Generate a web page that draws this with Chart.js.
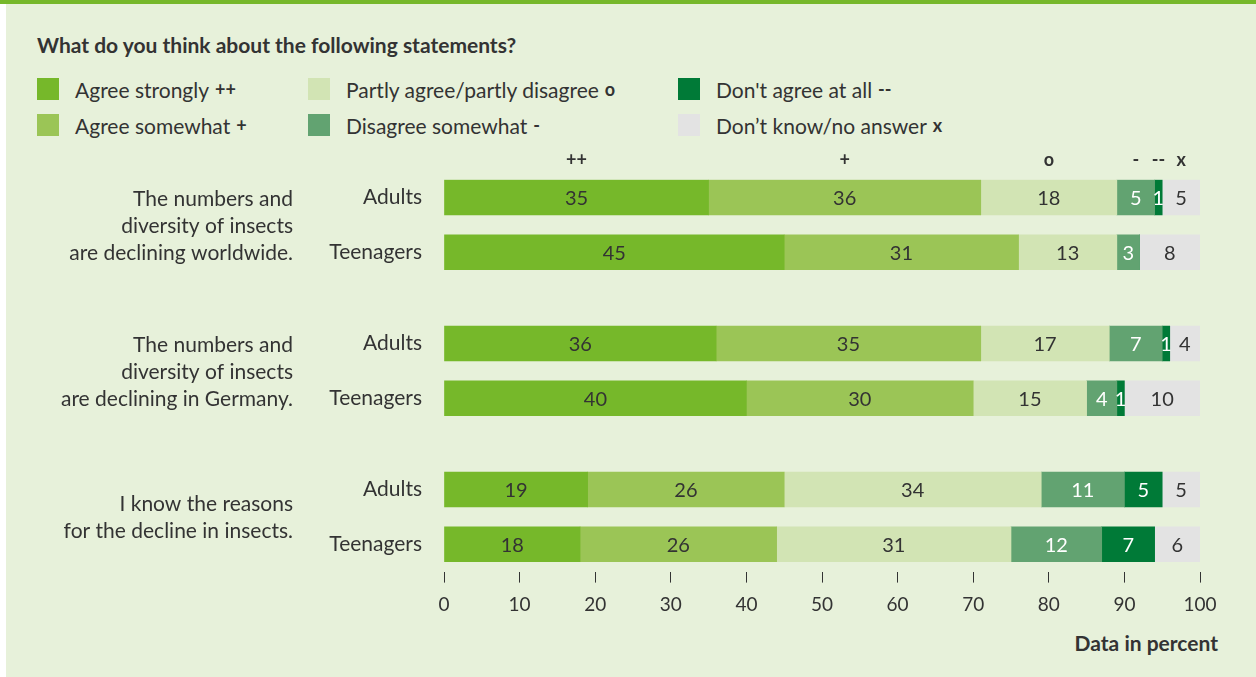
<!DOCTYPE html>
<html>
<head>
<meta charset="utf-8">
<script src="https://cdn.jsdelivr.net/npm/chart.js@4.4.1/dist/chart.umd.min.js"></script>
<style>
  body { margin: 0; width: 1256px; height: 677px; background: #fff; font-family: Lato, sans-serif; color: #333; overflow: hidden; position: relative; }
  #topline { position: absolute; left: 0; top: 0; width: 1256px; height: 4px; background: #76b82a; }
  #panel { position: absolute; left: 6px; top: 4px; width: 1250px; height: 673px; background: #e7f1da; }
  #title { position: absolute; left: 37px; top: 32px; font-weight: bold; font-size: 21px; }
  .leg { position: absolute; font-size: 21px; display: flex; align-items: center; height: 24px; white-space: nowrap; }
  .leg .sw { width: 22px; height: 22px; margin-right: 16px; }
  .leg b { margin-left: 6px; font-size: 18px; }
  #note { position: absolute; right: 38px; top: 630px; font-weight: bold; font-size: 21px; }
  canvas { position: absolute; left: 0; top: 0; }
</style>
</head>
<body>
<div id="topline"></div>
<div id="panel"></div>
<div id="title">What do you think about the following statements?</div>
<div id="legend"></div>
<div id="note">Data in percent</div>
<canvas id="chart" width="1256" height="677"></canvas>
<script>
  // survey rows: 3 statements x (adults, teenagers)
  const statements = [
    ["The numbers and", "diversity of insects", "are declining worldwide."],
    ["The numbers and", "diversity of insects", "are declining in Germany."],
    ["I know the reasons", "for the decline in insects."],
  ];
  const groups = ["Adults", "Teenagers"];

  const answers = [
    "Agree strongly",
    "Agree somewhat",
    "Partly agree/partly disagree",
    "Disagree somewhat",
    "Don't agree at all",
    "Don’t know/no answer",
  ];
  const symbols = ["++", "+", "o", "-", "--", "x"];

  // percentages per row (worldwide A/T, Germany A/T, reasons A/T)
  const agreeStrongly = [35, 45, 36, 40, 19, 18];
  const agreeSomewhat = [36, 31, 35, 30, 26, 26];
  const partlyAgree = [18, 13, 17, 15, 34, 31];
  const disagreeSomewhat = [5, 3, 7, 4, 11, 12];
  const notAtAll = [1, 0, 1, 1, 5, 7];
  const dontKnow = [5, 8, 4, 10, 5, 6];

  const xTicks = [0, 10, 20, 30, 40, 50, 60, 70, 80, 90, 100];

  const series = [agreeStrongly, agreeSomewhat, partlyAgree, disagreeSomewhat, notAtAll, dontKnow];
  const colors = ["#76b82a", "#9bc556", "#d2e4b4", "#62a371", "#007a37", "#e3e3e3"];
  const whiteText = [false, false, false, true, true, false];

  // bars sit in pairs, with a wider gap between statements
  const rowPos = (r) => Math.floor(r / 2) * 8 + (r % 2) * 3;
  const rowCount = agreeStrongly.length;

  // html legend, two rows per column
  const legendCols = [37, 308, 678];
  const legendRows = [77, 113];
  const legend = document.getElementById("legend");
  answers.forEach((a, i) => {
    const el = document.createElement("div");
    el.className = "leg";
    el.style.left = legendCols[Math.floor(i / 2)] + "px";
    el.style.top = legendRows[i % 2] + "px";
    el.innerHTML = `<span class="sw" style="background:${colors[i]}"></span>${a}<b>${symbols[i]}</b>`;
    legend.appendChild(el);
  });

  const textColor = "#333";
  const font = "Lato, sans-serif";

  const labelsPlugin = {
    id: "labels",
    afterDatasetsDraw(chart) {
      const ctx = chart.ctx;
      const yScale = chart.scales.y;
      ctx.save();

      // values inside segments
      ctx.font = `20px ${font}`;
      ctx.textAlign = "center";
      ctx.textBaseline = "middle";
      chart.data.datasets.forEach((ds, i) => {
        const meta = chart.getDatasetMeta(i);
        meta.data.forEach((bar, r) => {
          const v = series[i][r];
          if (!v) return;
          const { x, base, y } = bar.getProps(["x", "base", "y"], true);
          ctx.fillStyle = whiteText[i] ? "#fff" : textColor;
          ctx.fillText(v, (x + base) / 2, y + 1);
        });
      });

      // answer symbols above the first bar
      ctx.font = `bold 18px ${font}`;
      ctx.fillStyle = textColor;
      chart.data.datasets.forEach((ds, i) => {
        const bar = chart.getDatasetMeta(i).data[0];
        const { x, base } = bar.getProps(["x", "base"], true);
        ctx.fillText(symbols[i], (x + base) / 2, 160);
      });

      // statement text, right aligned left of the group labels
      ctx.font = `21px ${font}`;
      ctx.textAlign = "right";
      statements.forEach((lines, g) => {
        const mid = (yScale.getPixelForValue(rowPos(g * 2)) + yScale.getPixelForValue(rowPos(g * 2 + 1))) / 2;
        const lh = 27;
        const start = mid - ((lines.length - 1) * lh) / 2;
        lines.forEach((t, k) => ctx.fillText(t, 293, start + k * lh + 1));
      });
      ctx.restore();
    },
  };

  new Chart(document.getElementById("chart"), {
    type: "bar",
    data: {
      datasets: answers.map((a, i) => ({
        label: a,
        data: series[i].map((v, r) => ({ x: v, y: rowPos(r) })),
        backgroundColor: colors[i],
        borderWidth: 0,
        barThickness: 35,
      })),
    },
    options: {
      indexAxis: "y",
      responsive: false,
      animation: false,
      layout: { padding: { left: 0, right: 56, top: 179.25, bottom: 55.4 } },
      plugins: { legend: { display: false }, tooltip: { enabled: false } },
      scales: {
        x: {
          stacked: true,
          min: 0,
          max: 100,
          afterBuildTicks: (s) => { s.ticks = xTicks.map((v) => ({ value: v })); },
          afterFit: (s) => { s.height = 50; },
          ticks: { padding: 11, color: textColor, font: { family: font, size: 19 }, maxRotation: 0 },
          grid: { drawOnChartArea: false, tickLength: 11, color: textColor, lineWidth: 1 },
          border: { display: false },
        },
        y: {
          type: "linear",
          stacked: true,
          reverse: true,
          offset: false,
          min: -1,
          max: 20.5,
          afterBuildTicks: (s) => {
            const t = [];
            for (let r = 0; r < rowCount; r++) t.push({ value: rowPos(r) });
            s.ticks = t;
          },
          afterFit: (s) => { s.width = 444; },
          ticks: {
            callback: (v, idx) => groups[idx % 2],
            padding: 22,
            color: textColor,
            font: { family: font, size: 21 },
          },
          grid: { display: false, drawTicks: false },
          border: { display: false },
        },
      },
    },
    plugins: [labelsPlugin],
  });
</script>
</body>
</html>
